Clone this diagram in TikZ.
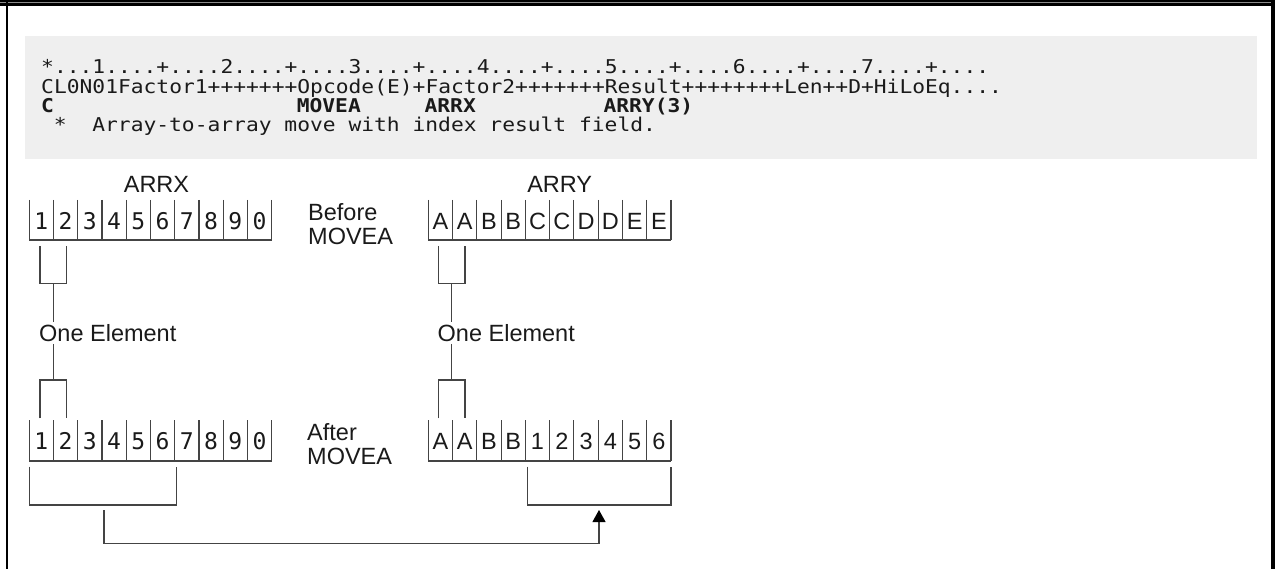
\documentclass[tikz,border=0pt]{standalone}
\usepackage{fontspec}
\setmainfont{Liberation Sans}
\newfontfamily\codefont[FakeStretch=1.12]{DejaVu Sans Mono}
\newfontfamily\monodigits{DejaVu Sans Mono}
\usetikzlibrary{arrows.meta}
\definecolor{codebg}{HTML}{EFEFEF}
\definecolor{txt}{HTML}{1A1A1A}
\definecolor{lnc}{HTML}{444444}
\newcommand\lblfont{\fontsize{23.5}{23.5}\selectfont}
\newcommand\codesize{\codefont\fontsize{19}{19}\selectfont}
\newcommand\colx[1]{41+#1*12.78}
\begin{document}
\begin{tikzpicture}[x=1pt,y=-1pt,
  code/.style={inner sep=0pt, anchor=base west, font=\codesize, text=txt},
  boldcode/.style={code, font=\codesize\bfseries},
  lbl/.style={inner sep=0pt, anchor=base west, font=\lblfont, text=txt},
  onelbl/.style={lbl, outer ysep=2.2pt},
  title/.style={inner sep=0pt, anchor=base, font=\lblfont, text=txt},
  cell/.style={inner sep=0pt, anchor=base, font=\lblfont, text=txt},
  monocell/.style={inner sep=0pt, anchor=base, font=\monodigits\fontsize{23}{23}\selectfont, text=txt},
  ln/.style={draw=lnc, line width=1.1pt},
  tip/.style={-{Triangle[width=13pt,length=12pt,color=black]}}
]
\useasboundingbox (0,0) rectangle (1275,569);
% frame
\fill[black] (0,0) rectangle (1275,6.3);
\fill[black!45] (0,2.3) rectangle (1275,3.3);
\fill[black] (6,0) rectangle (8.3,569);
\fill[black] (1271,0) rectangle (1275,569);
% code box
\fill[codebg] (25,36) rectangle (1257,159);
\node[code] (l1) at ({\colx{0}},74) {*...1....+....2....+....3....+....4....+....5....+....6....+....7....+....};
\node[code] (l2) at ({\colx{0}},93.3) {CL0N01Factor1+++++++Opcode(E)+Factor2+++++++Result++++++++Len++D+HiLoEq....};
\node[boldcode] (c3a) at ({\colx{0}},112.6) {C};
\node[boldcode] (c3b) at ({\colx{20}},112.6) {MOVEA};
\node[boldcode] (c3c) at ({\colx{30}},112.6) {ARRX};
\node[boldcode] (c3d) at ({\colx{44}},112.6) {ARRY(3)};
\node[code] (c4a) at ({\colx{1}},131.9) {*};
\node[code] (c4b) at ({\colx{4}},131.9) {Array-to-array move with index result field.};
% titles
\node[title] (tx) at (156.5,192.7) {ARRX};
\node[title] (ty) at (559.7,192.7) {ARRY};
\node[lbl] (bef1) at (308,221) {Before};
\node[lbl] (bef2) at (308,244.3) {MOVEA};
\node[lbl] (aft1) at (307,440.5) {After};
\node[lbl] (aft2) at (307,464.5) {MOVEA};
% cells
\foreach \t [count=\i] in {1,2,3,4,5,6,7,8,9,0} {
  \node[monocell] (bx\i) at ({29.3+(\i-0.5)*24.24},229.5) {\t};
  \node[monocell] (ax\i) at ({29.3+(\i-0.5)*24.24},449.5) {\t};
}
\foreach \t [count=\i] in {A,A,B,B,C,C,D,D,E,E}
  \node[cell] (by\i) at ({428.3+(\i-0.5)*24.27},229.5) {\t};
\foreach \t [count=\i] in {A,A,B,B,1,2,3,4,5,6}
  \node[cell] (ay\i) at ({428.3+(\i-0.5)*24.27},449.5) {\t};
% grids
\foreach \i in {0,...,10} {
  \draw[ln] ({29.3+\i*24.24},200) -- ({29.3+\i*24.24},240);
  \draw[ln] ({29.3+\i*24.24},420) -- ({29.3+\i*24.24},461);
  \draw[ln] ({428.3+\i*24.27},200) -- ({428.3+\i*24.27},240);
  \draw[ln] ({428.3+\i*24.27},420) -- ({428.3+\i*24.27},461);
}
\draw[ln] (29.3,240) -- (271.7,240);
\draw[ln] (29.3,461) -- (271.7,461);
\draw[ln] (428.3,240) -- (671,240);
\draw[ln] (428.3,461) -- (671,461);
% one element labels
\node[onelbl] (oneL) at (39,341.5) {One Element};
\node[onelbl] (oneR) at (437.5,341.5) {One Element};
% left element brackets
\coordinate (stL) at (53.3,283.3);
\coordinate (sbL) at (53.3,380);
\draw[ln] (40,246) -- (40,283.3) -- (66.7,283.3) -- (66.7,246);
\draw[ln] (stL) -- (stL |- oneL.north);
\draw[ln] (sbL |- oneL.south) -- (sbL);
\draw[ln] (40,418.3) -- (40,380) -- (66.7,380) -- (66.7,418.3);
% right element brackets
\coordinate (stR) at (451.7,283.3);
\coordinate (sbR) at (451.7,380);
\draw[ln] (438.5,246) -- (438.5,283.3) -- (465,283.3) -- (465,246);
\draw[ln] (stR) -- (stR |- oneR.north);
\draw[ln] (sbR |- oneR.south) -- (sbR);
\draw[ln] (438.5,418.3) -- (438.5,380) -- (465,380) -- (465,418.3);
% move brackets
\draw[ln] (29.3,466.7) -- (29.3,505) -- (176.7,505) -- (176.7,466.7);
\draw[ln] (527.3,466.7) -- (527.3,505) -- (671,505) -- (671,466.7);
\coordinate (mvS) at (104,510);
\coordinate (mvE) at (599,510);
\draw[ln, tip] (mvS) -- (104,543.3) -- (599,543.3) -- (mvE);
\end{tikzpicture}
\end{document}
